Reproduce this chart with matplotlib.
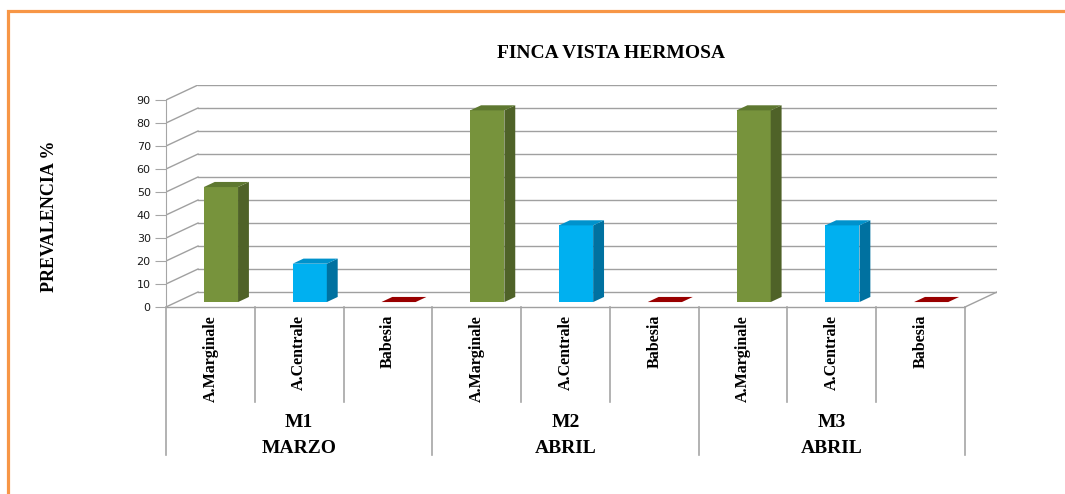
import matplotlib
matplotlib.use("Agg")
import matplotlib.pyplot as plt
from matplotlib.patches import Polygon, Rectangle

# data
species = ["A.Marginale", "A.Centrale", "Babesia"]
muestreos = ["M1", "M2", "M3"]
meses = ["MARZO", "ABRIL", "ABRIL"]
m1_vals = [50.0, 16.67, 0.0]
m2_vals = [83.33, 33.33, 0.0]
m3_vals = [83.33, 33.33, 0.0]
y_ticks = [0, 10, 20, 30, 40, 50, 60, 70, 80, 90]

# colours: front, side, top
colors = {
    "A.Marginale": ("#77933C", "#4F6228", "#5E7830"),
    "A.Centrale": ("#00B0F0", "#0071A0", "#0092CC"),
    "Babesia": ("#C00000", "#800000", "#990000"),
}

W, H = 1065, 494
fig = plt.figure(figsize=(W / 100, H / 100), dpi=100)

# axes spans the front plane plus the back-wall offset
x0, x1 = 166, 997
y0, y1 = 307, 85
ax = fig.add_axes([x0 / W, 1 - y0 / H, (x1 - x0) / W, (y0 - y1) / H])
ncat = 9
wall_dx = 32 / ((965 - 166) / ncat)   # in category units
wall_dy = 15 / (207 / 90)              # in value units
ax.set_xlim(0, ncat + wall_dx)
ax.set_ylim(0, 90 + wall_dy)
for s in ["top", "right", "bottom"]:
    ax.spines[s].set_visible(False)
ax.spines["left"].set_bounds(0, 90)
ax.spines["left"].set_color("#a6a6a6")
ax.set_xticks([])
ax.set_yticks(y_ticks)
ax.tick_params(axis="y", length=8, color="#a6a6a6", labelsize=8,
               labelcolor="#1a1a1a", pad=3)
for lab in ax.get_yticklabels():
    lab.set_fontfamily("DejaVu Sans")

grid_c = "#a0a0a0"
for v in y_ticks:
    ax.plot([0, wall_dx], [v, v + wall_dy], color=grid_c, lw=1, zorder=1)
    ax.plot([wall_dx, ncat + wall_dx], [v + wall_dy, v + wall_dy],
            color=grid_c, lw=1, zorder=1)
# floor
ax.plot([0, ncat], [0, 0], color=grid_c, lw=1, zorder=1, clip_on=False)
ax.plot([ncat, ncat + wall_dx], [0, wall_dy], color=grid_c, lw=1, zorder=1)

# bars
all_vals = m1_vals + m2_vals + m3_vals
names = species * 3
bw = 0.385
f0, f1 = 0.33, 0.67
sx, sy = f0 * wall_dx, f0 * wall_dy
ddx, ddy = (f1 - f0) * wall_dx, (f1 - f0) * wall_dy
for i, (v, nm) in enumerate(zip(all_vals, names)):
    front, side, top = colors[nm]
    left = i + 0.5 - bw / 2 + sx
    right = left + bw
    b = sy
    t = sy + v
    if v > 0:
        ax.bar(left, v, width=bw, bottom=b, align="edge", color=front,
               edgecolor="none", zorder=3)
        ax.add_patch(Polygon([(right, b), (right + ddx, b + ddy),
                              (right + ddx, t + ddy), (right, t)],
                             closed=True, facecolor=side, edgecolor="none",
                             zorder=3))
    ax.add_patch(Polygon([(left, t), (right, t), (right + ddx, t + ddy),
                          (left + ddx, t + ddy)], closed=True,
                         facecolor=top, edgecolor="none", zorder=3))

# category axis below
sep_c = "#a6a6a6"
for k in range(ncat + 1):
    depth = -64.3 if k % 3 == 0 else -41.3
    ax.plot([k, k], [0, depth], color=sep_c, lw=1.2, clip_on=False, zorder=2)
for i, nm in enumerate(names):
    ax.text(i + 0.5, -3.5, nm, rotation=90, ha="center", va="top",
            fontsize=11.5, fontweight="bold", family="Liberation Serif",
            clip_on=False)
for g in range(3):
    ax.text(g * 3 + 1.5, -50, muestreos[g], ha="center", va="center",
            fontsize=14, fontweight="bold", family="Liberation Serif")
    ax.text(g * 3 + 1.5, -61.7, meses[g], ha="center", va="center",
            fontsize=14, fontweight="bold", family="Liberation Serif")

fig.text(611 / W, 1 - 53 / H, "FINCA VISTA HERMOSA", ha="center",
         va="center", fontsize=14, fontweight="bold",
         family="Liberation Serif")
fig.text(50 / W, 1 - 216 / H, "PREVALENCIA %", rotation=90, ha="center",
         va="center", fontsize=13, fontweight="bold",
         family="Liberation Serif")

# orange chart-area border (left and top visible)
fig.patches.append(Rectangle((8 / W, -0.2), 1.2, 1 - 11 / H + 0.2,
                             transform=fig.transFigure, fill=False,
                             edgecolor="#F79646", lw=2.3))

fig.savefig("out.png", dpi=100)
